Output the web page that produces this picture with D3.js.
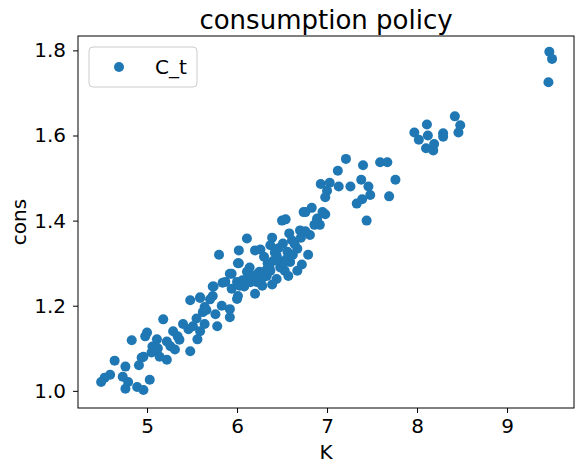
<!DOCTYPE html><html><head><meta charset="utf-8"><script src="https://cdn.jsdelivr.net/npm/d3@7"></script>
<style>body{margin:0;background:#fff}text{font-family:"DejaVu Sans",sans-serif}</style></head><body><svg id="c" width="584" height="472"></svg>
<script>
const kValues=[9.47,9.50,9.46,8.42,8.48,8.46,8.11,7.97,8.02,8.12,8.19,8.10,8.18,8.29,8.29,
7.21,7.40,7.59,7.67,7.12,6.93,7.03,7.0,7.13,7.26,7.38,7.46,7.48,7.39,7.33,7.76,7.69,7.44,6.98,6.76,6.83,6.89,6.98,6.92,
6.74,6.50,6.54,6.89,6.70,6.81,6.11,6.39,6.58,6.02,5.80,6.20,6.26,6.37,6.51,6.61,6.67,6.79,6.56,6.44,6.02,6.34,6.48,6.59,6.72,6.14,5.94,6.11,6.23,6.37,6.53,6.67,5.84,6.0,6.14,6.33,6.44,6.57,5.73,5.94,6.2,6.03,6.28,6.39,5.73,6.01,5.59,
6.01,5.92,5.87,6.11,6.22,6.0,5.92,5.92,5.74,5.48,5.59,5.64,5.62,5.83,5.76,5.78,5.64,5.59,5.51,5.46,5.40,5.29,5.34,5.48,5.56,5.31,5.22,5.22,5.18,5.11,5.14,5.06,4.96,4.94,4.98,5.0,4.83,5.11,4.64,4.76,4.73,4.79,4.76,4.59,4.53,4.49,4.89,4.96,5.03,
6.45,6.36,6.30,6.42,6.48,6.55,6.62,6.28,6.33,6.40,6.46,6.52,6.25,6.17,6.08,6.64,6.71,6.76,6.86,6.95,5.70,5.66,5.55,5.36,5.26,5.05,5.12,4.91,6.06,6.15];
const consValues=[1.797,1.78,1.725,1.645,1.624,1.607,1.626,1.607,1.59,1.60,1.58,1.57,1.565,1.605,1.597,
1.545,1.53,1.537,1.537,1.517,1.486,1.489,1.47,1.48,1.48,1.496,1.48,1.46,1.45,1.44,1.496,1.457,1.40,1.455,1.42,1.43,1.40,1.415,1.39,
1.42,1.40,1.403,1.405,1.377,1.366,1.358,1.36,1.37,1.33,1.32,1.33,1.332,1.342,1.346,1.354,1.334,1.32,1.327,1.318,1.30,1.30,1.30,1.303,1.297,1.29,1.275,1.28,1.275,1.282,1.282,1.282,1.254,1.256,1.26,1.27,1.263,1.27,1.245,1.24,1.228,1.247,1.247,1.25,1.223,1.223,1.22,
1.30,1.275,1.256,1.263,1.256,1.216,1.192,1.173,1.245,1.213,1.218,1.197,1.185,1.20,1.18,1.152,1.157,1.14,1.152,1.145,1.157,1.14,1.128,1.093,1.121,1.097,1.116,1.073,1.168,1.097,1.08,1.104,1.08,1.078,1.128,1.137,1.119,1.121,1.071,1.057,1.033,1.021,1.005,1.038,1.031,1.021,1.009,1.002,1.026,
1.31,1.29,1.315,1.325,1.29,1.31,1.32,1.265,1.285,1.305,1.335,1.30,1.28,1.27,1.245,1.345,1.36,1.375,1.39,1.42,1.215,1.19,1.17,1.12,1.105,1.09,1.10,1.06,1.26,1.255];
const xTicks=[5,6,7,8,9], yTicks=[1.0,1.2,1.4,1.6,1.8];
const svg=d3.select("#c");
const L=78,R=574,T=36,B=408;
const x=d3.scaleLinear().domain([4.233,9.744]).range([L,R]);
const y=d3.scaleLinear().domain([0.9597,1.8338]).range([B,T]);
const col="#1f77b4";
svg.append("g").selectAll("circle").data(kValues).join("circle")
 .attr("cx",d=>x(d)).attr("cy",(d,i)=>y(consValues[i])).attr("r",5).attr("fill",col);
const xa=svg.append("g").attr("transform",`translate(0,${B})`).call(d3.axisBottom(x).tickValues(xTicks).tickFormat(d3.format("d")).tickSize(5).tickPadding(6));
const ya=svg.append("g").attr("transform",`translate(${L},0)`).call(d3.axisLeft(y).tickValues(yTicks).tickFormat(d3.format(".1f")).tickSize(5).tickPadding(7));
[xa,ya].forEach(a=>{a.select(".domain").remove();a.selectAll("text").style("font-size","20px").attr("fill","#000").style("font-family","DejaVu Sans");a.selectAll("line").attr("stroke","#000");});
svg.append("rect").attr("x",L).attr("y",T).attr("width",R-L).attr("height",B-T).attr("fill","none").attr("stroke","#000").attr("stroke-width",1);
svg.append("text").attr("x",(L+R)/2).attr("y",29).attr("text-anchor","middle").style("font-size","26px").text("consumption policy");
svg.append("text").attr("x",(L+R)/2).attr("y",459).attr("text-anchor","middle").style("font-size","20px").text("K");
svg.append("text").attr("transform",`translate(26,${(T+B)/2}) rotate(-90)`).attr("text-anchor","middle").style("font-size","20px").text("cons");
const lg=svg.append("g");
lg.append("rect").attr("x",89).attr("y",47).attr("width",108).attr("height",40).attr("rx",4).attr("fill","#fff").attr("fill-opacity",0.8).attr("stroke","#ccc");
lg.append("circle").attr("cx",119).attr("cy",67).attr("r",5).attr("fill",col);
lg.append("text").attr("x",155).attr("y",74).style("font-size","20px").text("C_t");
</script></body></html>
